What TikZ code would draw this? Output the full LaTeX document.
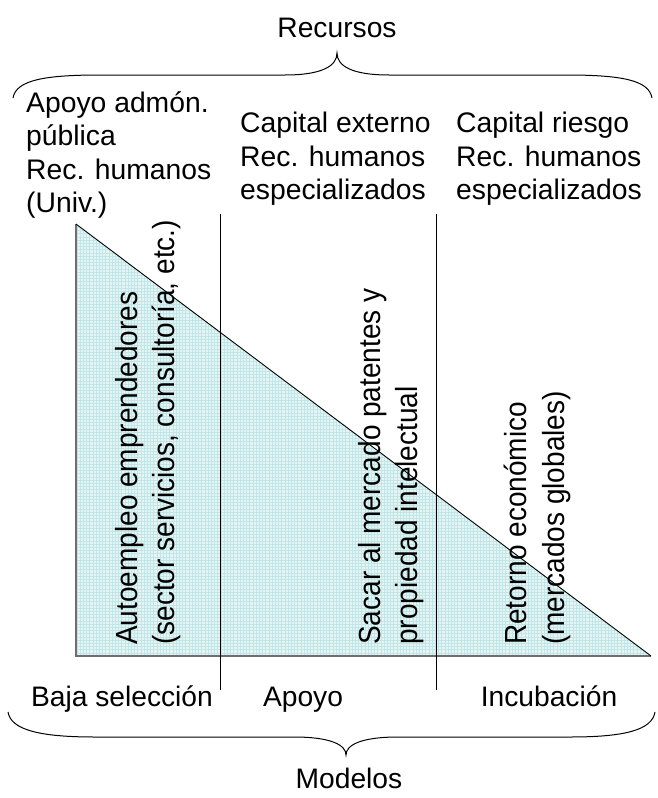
\documentclass[tikz,border=0pt]{standalone}
\usepackage{fontspec}
\setmainfont{Liberation Sans}
\definecolor{trifill}{RGB}{228,245,246}
\definecolor{trigrid}{RGB}{194,229,232}
\definecolor{edgegray}{RGB}{110,110,110}
\tikzset{
  txt/.style={inner sep=0pt, font=\fontsize{28.3}{33.5}\selectfont, align=left},
  lbl/.style={inner sep=0pt, font=\fontsize{28.2}{33.5}\selectfont, anchor=base},
  rtxt/.style={inner sep=0pt, font=\fontsize{28}{34.5}\selectfont, align=left, xscale=1.09, rotate=90, anchor=north west},
  brace/.style={draw=black, line width=1pt},
  divider/.style={draw=black, line width=0.8pt}
}
\begin{document}
\begin{tikzpicture}[x=1pt,y=1pt]
\useasboundingbox (0,0) rectangle (657,-798);
% triangle
\coordinate (T) at (76,-224);
\coordinate (BL) at (76,-656);
\coordinate (BR) at (651,-656);
\fill[trifill] (T) -- (BL) -- (BR) -- cycle;
\begin{scope}
\clip (T) -- (BL) -- (BR) -- cycle;
\draw[trigrid, line width=0.35pt, step=3.2] (76,-660) grid (655,-220);
\end{scope}
\draw[edgegray, line width=1.6pt] (T) -- (BL) -- (BR);
\draw[black, line width=0.9pt] (T) -- (BR);
% dividers
\coordinate (d1t) at (220,-214);
\coordinate (d1b) at (220,-690);
\coordinate (d2t) at (436,-214);
\coordinate (d2b) at (436,-690);
\draw[divider] (d1t) -- (d1b);
\draw[divider] (d2t) -- (d2b);
% titles
\node[lbl] (rec) at (337,-37) {Recursos};
\node[lbl] (mod) at (349,-788) {Modelos};
% top brace
\coordinate (tb1) at (13,-98);
\coordinate (tbt) at (337,-53);
\coordinate (tb2) at (652,-98);
\draw[brace] (tb1) .. controls (16,-80) and (45,-75) .. (100,-75) -- (285,-75)
  .. controls (322,-75) and (337,-66) .. (tbt)
  .. controls (337,-66) and (352,-75) .. (389,-75) -- (566,-75)
  .. controls (621,-75) and (649,-80) .. (tb2);
% bottom brace
\coordinate (bb1) at (8,-712);
\coordinate (bbt) at (346,-755);
\coordinate (bb2) at (655,-712);
\draw[brace] (bb1) .. controls (11,-730) and (40,-737) .. (95,-737) -- (294,-737)
  .. controls (331,-737) and (346,-745) .. (bbt)
  .. controls (346,-745) and (361,-737) .. (398,-737) -- (570,-737)
  .. controls (625,-737) and (652,-730) .. (bb2);
% top text blocks
\node[txt, anchor=north west] (r1) at (26,-91) {Apoyo admón.\\pública\\Rec. humanos\\(Univ.)};
\node[txt, anchor=north west] (r2) at (240,-112) {Capital externo\\Rec. humanos\\especializados};
\node[txt, anchor=north west] (r3) at (456,-112) {Capital riesgo\\Rec. humanos\\especializados};
% rotated texts
\node[rtxt] (c1) at (115,-645) {Autoempleo emprendedores\\(sector servicios, consultoría, etc.)};
\node[rtxt] (c2) at (358,-645) {Sacar al mercado patentes y\\propiedad intelectual};
\node[rtxt] (c3) at (504,-645) {Retorno económico\\(mercados globales)};
% bottom labels
\node[lbl] (m1) at (122,-706) {Baja selección};
\node[lbl] (m2) at (303,-706) {Apoyo};
\node[lbl] (m3) at (549,-706) {Incubación};
\end{tikzpicture}
\end{document}
